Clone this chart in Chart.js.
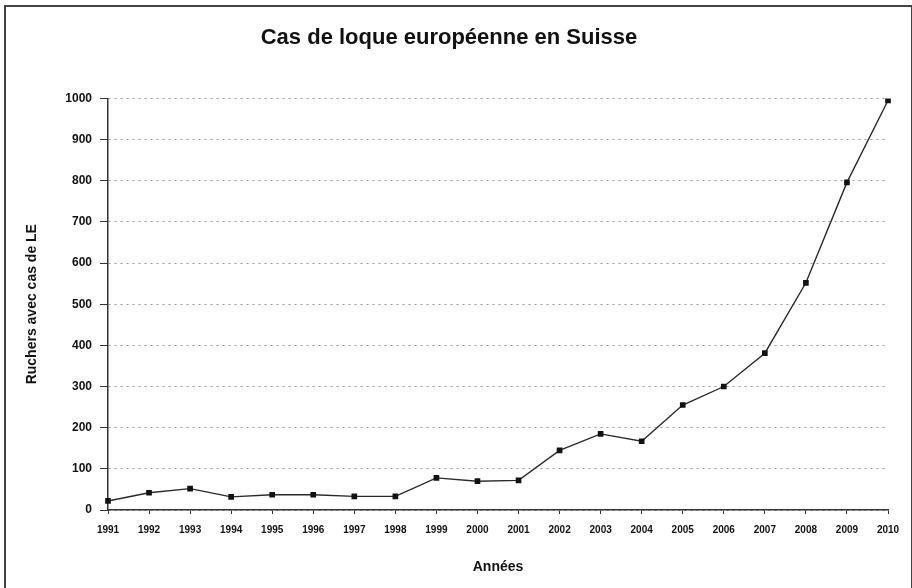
<!DOCTYPE html>
<html lang="fr">
<head>
    <meta charset="UTF-8">
    <title>Cas de loque européenne en Suisse</title>
    <script src="https://cdn.jsdelivr.net/npm/chart.js"></script>
    <style>
        body, html {
            margin: 0;
            padding: 0;
            background: #ffffff;
            overflow: hidden;
        }
        .frame {
            position: absolute;
            left: 4px;
            top: 5px;
            width: 905px;
            height: 600px;
            border-left: 2px solid #444;
            border-top: 2px solid #444;
            border-right: 2px solid #444;
        }
        .chart-box {
            position: absolute;
            left: 0;
            top: 0;
            width: 912px;
            height: 588px;
        }
    </style>
</head>
<body>
    <div class="frame"></div>
    <div class="chart-box"><canvas id="chart"></canvas></div>
    <script>
        // data
        const years = ['1991', '1992', '1993', '1994', '1995', '1996', '1997', '1998', '1999', '2000',
                       '2001', '2002', '2003', '2004', '2005', '2006', '2007', '2008', '2009', '2010'];
        const cases = [22, 42, 52, 32, 37, 37, 33, 33, 78, 70,
                       72, 145, 185, 167, 255, 300, 381, 552, 796, 995];
        const yTicks = [0, 100, 200, 300, 400, 500, 600, 700, 800, 900, 1000];

        const font = 'Liberation Sans, Arial, sans-serif';

        new Chart(document.getElementById('chart'), {
            type: 'line',
            data: {
                labels: years,
                datasets: [{
                    label: 'Ruchers avec cas de LE',
                    data: cases,
                    borderColor: '#2a2a2a',
                    borderWidth: 1.4,
                    backgroundColor: '#111',
                    pointStyle: 'rect',
                    pointRadius: 4,
                    pointBorderWidth: 0,
                    tension: 0,
                    fill: false
                }]
            },
            options: {
                responsive: true,
                maintainAspectRatio: false,
                animation: false,
                layout: { padding: { left: 10, right: 24, top: 0, bottom: 8 } },
                plugins: {
                    legend: { display: false },
                    tooltip: { enabled: false },
                    title: {
                        display: true,
                        text: 'Cas de loque européenne en Suisse',
                        color: '#111',
                        font: { family: font, size: 22, weight: 'bold' },
                        padding: { top: 25, bottom: 47 }
                    }
                },
                scales: {
                    x: {
                        offset: false,
                        grid: {
                            drawOnChartArea: false,
                            drawTicks: true,
                            tickLength: 4,
                            tickColor: '#333',
                            tickWidth: 1
                        },
                        border: { display: true, color: '#333', width: 1.5 },
                        ticks: {
                            color: '#111',
                            font: { family: font, size: 10, weight: 'bold' },
                            padding: 10,
                            maxRotation: 0,
                            autoSkip: false
                        },
                        title: {
                            display: true,
                            text: 'Années',
                            color: '#111',
                            font: { family: font, size: 14, weight: 'bold' },
                            padding: { top: 0, bottom: 4 }
                        },
                        afterFit: scale => { scale.height = 70; }
                    },
                    y: {
                        min: 0,
                        max: 1000,
                        afterBuildTicks: scale => { scale.ticks = yTicks.map(v => ({ value: v })); },
                        grid: {
                            color: '#999',
                            lineWidth: 1,
                            tickLength: 8,
                            tickColor: '#333',
                            tickBorderDash: [],
                            tickWidth: 1
                        },
                        border: { display: true, color: '#333', width: 1.5, dash: [2, 4] },
                        ticks: {
                            color: '#111',
                            font: { family: font, size: 12, weight: 'bold' },
                            padding: 8,
                            callback: v => String(v)
                        },
                        title: {
                            display: true,
                            text: 'Ruchers avec cas de LE',
                            color: '#111',
                            font: { family: font, size: 14, weight: 'bold' },
                            padding: { top: 14, bottom: 0 }
                        },
                        afterFit: scale => { scale.width = 98; }
                    }
                }
            }
        });
    </script>
</body>
</html>
